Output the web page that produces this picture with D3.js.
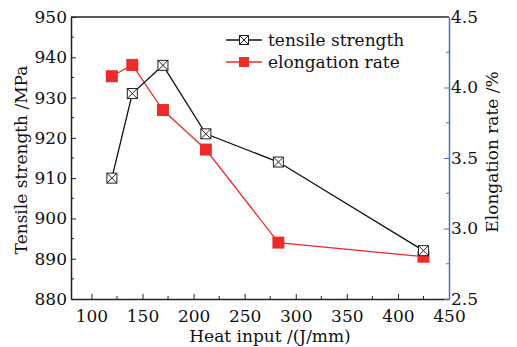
<!DOCTYPE html>
<html>
<head>
<meta charset="utf-8">
<script src="https://cdn.jsdelivr.net/npm/d3@7"></script>
<style>
  body { margin: 0; background: #fff; }
  text { font-family: "DejaVu Serif", serif; fill: #111; }
</style>
</head>
<body>
<figure id="chart" style="margin:0"></figure>
<script>
// data
const heatInput = [120, 140, 170, 212, 283, 425];
const tensileStrength = [910, 931, 938, 921, 914, 892];
const elongationRate = [4.08, 4.16, 3.84, 3.56, 2.90, 2.80];
const xTicks = [100, 150, 200, 250, 300, 350, 400, 450];
const leftTicks = [880, 890, 900, 910, 920, 930, 940, 950];
const rightTicks = [2.5, 3.0, 3.5, 4.0, 4.5];

const W = 517, H = 347;
const m = { left: 71, right: 68, top: 17, bottom: 48 };
const pw = W - m.left - m.right, ph = H - m.top - m.bottom;
const blue = "#4a6fc0", red = "#ee2b2b";

const svg = d3.select("figure#chart").append("svg")
  .attr("width", W).attr("height", H);
const g = svg.append("g").attr("transform", "translate(" + m.left + "," + m.top + ")");

const x = d3.scaleLinear().domain([80, 450]).range([0, pw]);
const yL = d3.scaleLinear().domain([880, 950]).range([ph, 0]);
const yR = d3.scaleLinear().domain([2.5, 4.5]).range([ph, 0]);

// top border
g.append("line").attr("x1", 0).attr("x2", pw).attr("y1", 0).attr("y2", 0)
  .attr("stroke", "#222").attr("stroke-width", 1.5);

// minor ticks
const minor = (sel, vals, fn) => sel.selectAll(null).data(vals).enter().append("line").each(fn);

// x axis
const gx = g.append("g").attr("transform", "translate(0," + ph + ")")
  .call(d3.axisBottom(x).tickValues(xTicks).tickSize(-5).tickPadding(11).tickSizeOuter(0));
minor(gx, d3.range(125, 450, 50), function (d) {
  d3.select(this).attr("x1", x(d)).attr("x2", x(d)).attr("y1", 0).attr("y2", -3).attr("stroke", "#222");
});

// left axis
const gl = g.append("g")
  .call(d3.axisLeft(yL).tickValues(leftTicks).tickSize(-5).tickPadding(4).tickSizeOuter(0));
minor(gl, d3.range(885, 950, 10), function (d) {
  d3.select(this).attr("x1", 0).attr("x2", 3).attr("y1", yL(d)).attr("y2", yL(d)).attr("stroke", "#222");
});

// right axis
const gr = g.append("g").attr("transform", "translate(" + pw + ",0)")
  .call(d3.axisRight(yR).tickValues(rightTicks).tickFormat(d3.format(".1f")).tickSize(-5).tickPadding(1).tickSizeOuter(0));
minor(gr, d3.range(2.75, 4.5, 0.5), function (d) {
  d3.select(this).attr("x1", 0).attr("x2", -3).attr("y1", yR(d)).attr("y2", yR(d)).attr("stroke", blue);
});

[gx, gl].forEach(a => {
  a.select(".domain").attr("stroke", "#222").attr("stroke-width", 1.5);
  a.selectAll(".tick line").attr("stroke", "#222");
});
gr.select(".domain").attr("stroke", blue).attr("stroke-width", 1.5);
gr.selectAll(".tick line").attr("stroke", blue);
g.selectAll(".tick text").attr("font-size", 17).attr("font-family", "DejaVu Serif").attr("fill", "#111");
gr.selectAll(".tick text").attr("x", 2);

// axis titles
svg.append("text").attr("x", 270).attr("y", 342).attr("text-anchor", "middle")
  .attr("font-size", 17).text("Heat input /(J/mm)");
svg.append("text").attr("transform", "translate(27,160) rotate(-90)").attr("text-anchor", "middle")
  .attr("font-size", 17).text("Tensile strength /MPa");
svg.append("text").attr("transform", "translate(498,152) rotate(-90)").attr("text-anchor", "middle")
  .attr("font-size", 17).text("Elongation rate /%");

// series
const lineT = d3.line().x((d, i) => x(heatInput[i])).y(d => yL(d));
const lineE = d3.line().x((d, i) => x(heatInput[i])).y(d => yR(d));

g.append("path").datum(elongationRate).attr("d", lineE).attr("fill", "none")
  .attr("stroke", red).attr("stroke-width", 1.3);
g.append("path").datum(tensileStrength).attr("d", lineT).attr("fill", "none")
  .attr("stroke", "#111").attr("stroke-width", 1.3);

function crossBox(sel, cx, cy, s) {
  sel.append("rect").attr("x", cx - s / 2).attr("y", cy - s / 2).attr("width", s).attr("height", s)
    .attr("fill", "#fff").attr("stroke", "#222").attr("stroke-width", 1);
  sel.append("path").attr("d", `M${cx - s / 2},${cy - s / 2}L${cx + s / 2},${cy + s / 2}M${cx + s / 2},${cy - s / 2}L${cx - s / 2},${cy + s / 2}`)
    .attr("stroke", "#222").attr("stroke-width", 1);
}
function redBox(sel, cx, cy, s) {
  sel.append("rect").attr("x", cx - s / 2).attr("y", cy - s / 2).attr("width", s).attr("height", s)
    .attr("fill", red);
}

elongationRate.forEach((d, i) => redBox(g, x(heatInput[i]), yR(d), 12));
tensileStrength.forEach((d, i) => crossBox(g, x(heatInput[i]), yL(d), 10));

// legend
const lg = svg.append("g");
lg.append("line").attr("x1", 226).attr("x2", 262).attr("y1", 40).attr("y2", 40).attr("stroke", "#111").attr("stroke-width", 1.3);
crossBox(lg, 244, 40, 9);
lg.append("text").attr("x", 268).attr("y", 46).attr("font-size", 17).text("tensile strength");
lg.append("line").attr("x1", 226).attr("x2", 262).attr("y1", 62).attr("y2", 62).attr("stroke", red).attr("stroke-width", 1.3);
redBox(lg, 244, 62, 10);
lg.append("text").attr("x", 268).attr("y", 68).attr("font-size", 17).text("elongation rate");
</script>
</body>
</html>
